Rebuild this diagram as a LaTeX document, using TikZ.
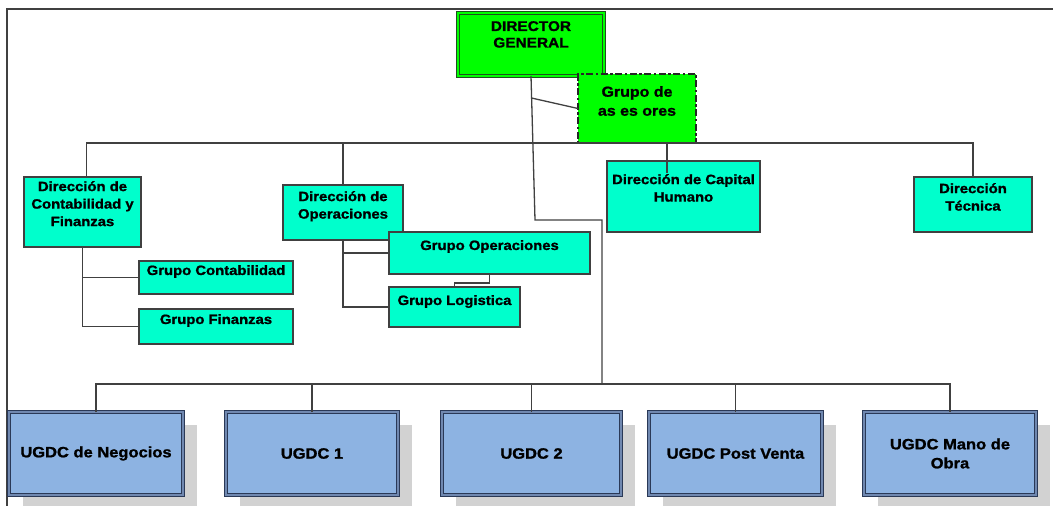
\documentclass[tikz,border=0pt]{standalone}
\usepackage{fontspec}
\setmainfont{Liberation Sans}[FakeStretch=1.1,BoldFeatures={FakeBold=1.2}]
\usetikzlibrary{positioning,calc,shadows}
\definecolor{verde}{HTML}{00FF00}
\definecolor{verdeosc}{HTML}{1F4F1F}
\definecolor{aqua}{HTML}{00FFCC}
\definecolor{azul}{HTML}{8DB3E2}
\definecolor{azulosc}{HTML}{2A3957}
\definecolor{azulgap}{HTML}{7088B0}
\definecolor{linea}{HTML}{404040}
\definecolor{sombra}{HTML}{D2D2D2}

\begin{document}
\begin{tikzpicture}[x=1pt,y=-1pt,
    caja/.style={draw=linea,line width=1.2pt,anchor=north west,inner sep=0pt,outer sep=0pt},
    dir/.style={caja,fill=aqua},
    ugdc/.style={caja,fill=azul,draw=azulosc,line width=0.9pt,double=azulgap,double distance=1.6pt,
        minimum height=83pt,align=center,font=\bfseries\fontsize{15}{19}\selectfont,
        drop shadow={shadow xshift=14pt,shadow yshift=-13pt,fill=sombra,opacity=1}},
    txt/.style={inner sep=0pt,align=center,font=\bfseries\fontsize{13.5}{17.5}\selectfont},
    conn/.style={draw=linea,line width=1.3pt}]
    \clip (0,0) rectangle (1053,506);
    \draw[linea,line width=1.5pt] (1053,9) -- (7,9) -- (7,506);

    \node[caja,fill=verde,draw=verdeosc,line width=1pt,double=verde,double distance=1.6pt,
          minimum width=146pt,minimum height=63pt] (dg) at (458,13) {};
    \node[txt,font=\bfseries\fontsize{14}{16.5}\selectfont,below=8pt of dg.north] (dg-t) {DIRECTOR\\GENERAL};
    \node[caja,fill=verde,draw=black!85,line width=1.4pt,dash pattern=on 7pt off 2.5pt on 2.5pt off 2.5pt,
          minimum width=118pt,minimum height=69pt] (ase) at (578,74) {};
    \node[txt,font=\bfseries\fontsize{14.5}{19}\selectfont,below=12pt of ase.north] (ase-t) {Grupo de\\as es ores};

    \node[dir,minimum width=117pt,minimum height=70pt] (dcf) at (24,177) {};
    \node[txt,below=4pt of dcf.north] (dcf-t) {Dirección de\\Contabilidad y\\Finanzas};
    \node[dir,minimum width=154pt,minimum height=33pt] (gcont) at (139,261) {};
    \node[txt,below=4pt of gcont.north] (gcont-t) {Grupo Contabilidad};
    \node[dir,minimum width=154pt,minimum height=35pt] (gfin) at (139,309) {};
    \node[txt,below=5pt of gfin.north] (gfin-t) {Grupo Finanzas};

    \node[dir,minimum width=120pt,minimum height=55pt] (dop) at (283,185) {};
    \node[txt,below=6pt of dop.north] (dop-t) {Dirección de\\Operaciones};
    \node[dir,minimum width=201pt,minimum height=42pt] (gop) at (389,232) {};
    \node[txt,below=8pt of gop.north] (gop-t) {Grupo Operaciones};
    \node[dir,minimum width=131pt,minimum height=40pt] (glog) at (389,287) {};
    \node[txt,below=8pt of glog.north] (glog-t) {Grupo Logistica};

    \node[dir,minimum width=153pt,minimum height=71pt] (dch) at (607,161) {};
    \node[txt,below=13pt of dch.north] (dch-t) {Dirección de Capital\\Humano};
    \node[dir,minimum width=118pt,minimum height=55pt] (dtec) at (914,177) {};
    \node[txt,below=6pt of dtec.north] (dtec-t) {Dirección\\Técnica};

    \node[ugdc,minimum width=174pt] (ug1) at (9,412) {UGDC de Negocios};
    \node[ugdc,minimum width=172pt] (ug2) at (226,412) {UGDC 1};
    \node[ugdc,minimum width=179pt] (ug3) at (442,412) {UGDC 2};
    \node[ugdc,minimum width=173pt] (ug4) at (649,412) {UGDC Post Venta};
    \node[ugdc,minimum width=172pt] (ug5) at (864,412) {UGDC Mano de\\Obra};

    \coordinate (k1) at (535,220);
    \coordinate (k2) at (602,384);
    \draw[conn] ([xshift=4pt]dcf.north) |- (ase.south) -| (dtec.north);
    \draw[conn] (dop.north) -- (dop.north |- ase.south);
    \draw[conn] ([xshift=-16.5pt]dch.north |- ase.south) -- ++(0,30);
    \draw[conn] (dg.south) -- (k1) -| (k2);
    \draw[conn] ($(dg.south)!0.153!(k1)$) -- (ase.west);
    \draw[conn] (dcf.south) |- (gfin.west);
    \draw[conn] (dcf.south |- gcont.west) -- (gcont.west);
    \draw[conn] (dop.south) |- (glog.west);
    \draw[conn] (dop.south |- gop.west) -- (gop.west);
    \draw[conn] (gop.south) -- ++(0,9) -| (glog.north);
    \draw[conn] (ug1.north) |- (k2) -| (ug5.north);
    \foreach \u in {ug2,ug3,ug4}
      \draw[conn] (\u.north) -- (\u.north |- k2);
\end{tikzpicture}
\end{document}
